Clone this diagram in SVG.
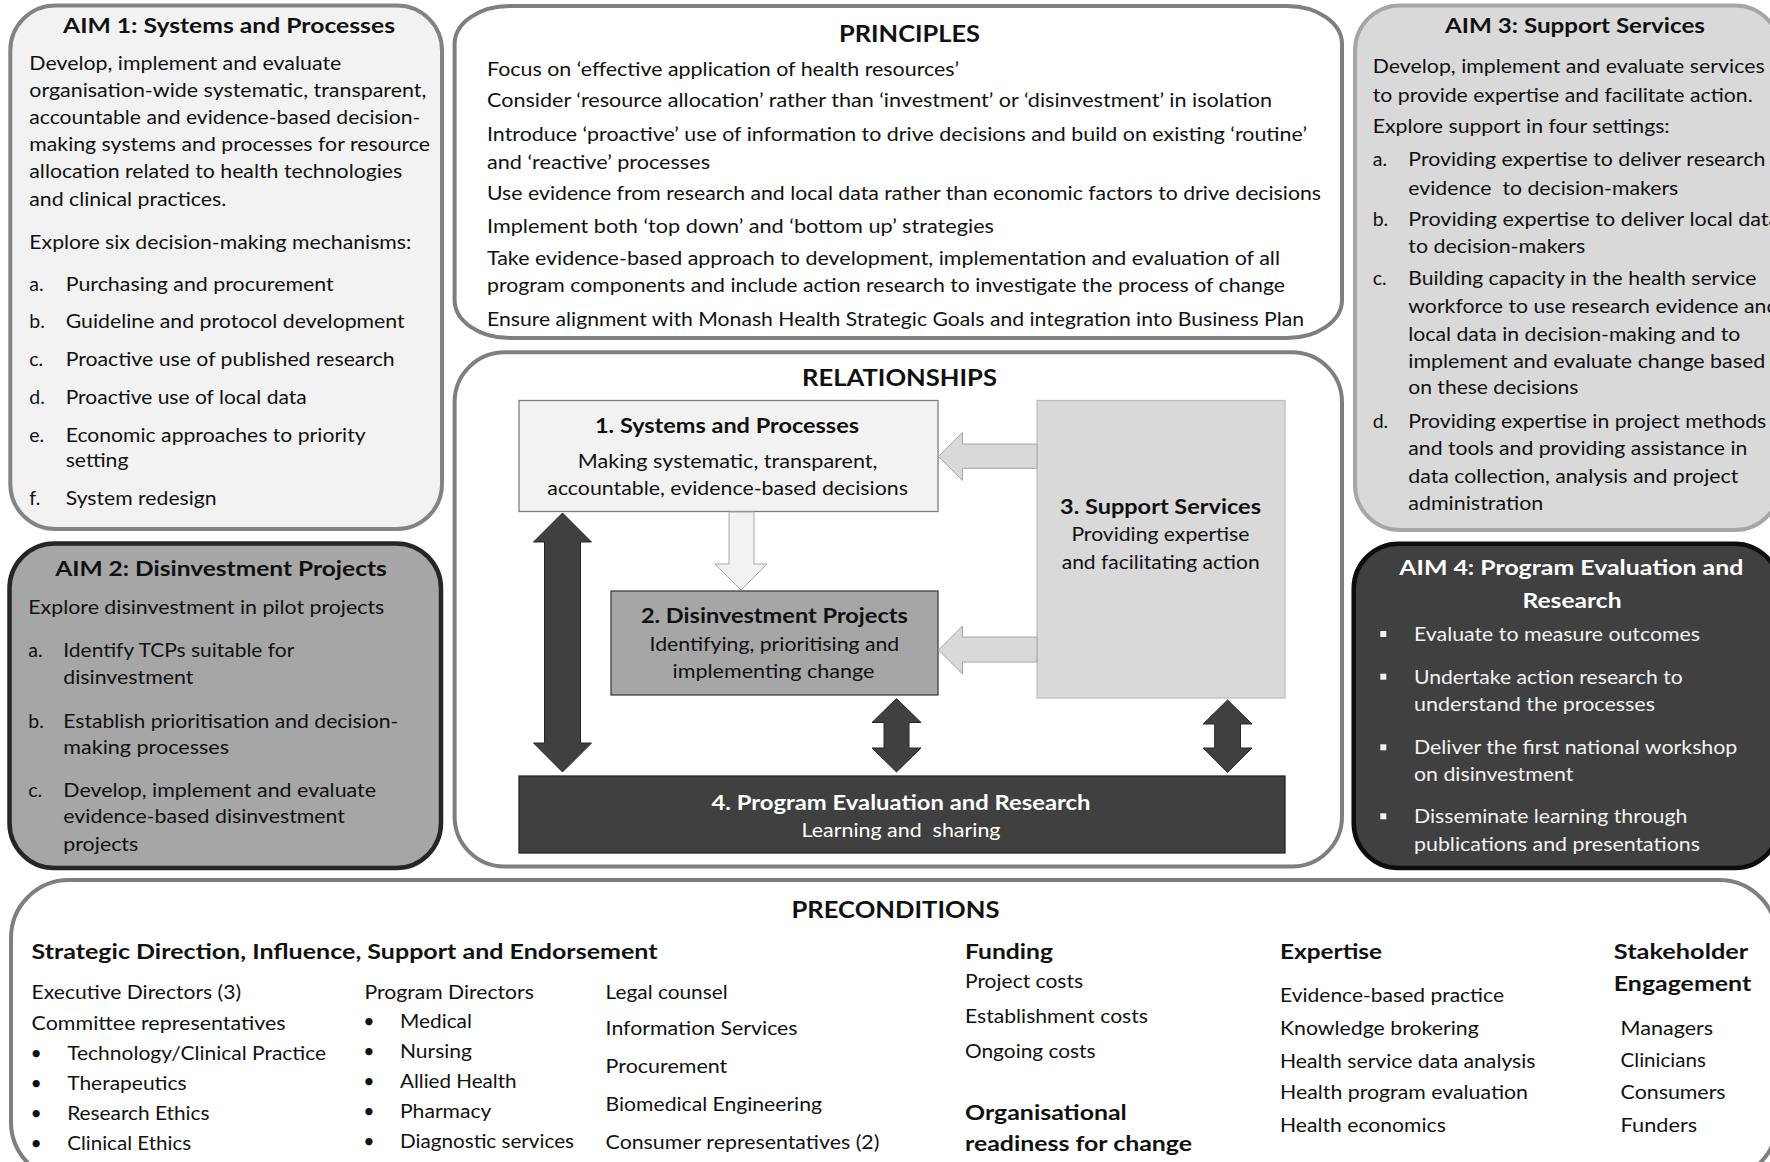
<svg xmlns="http://www.w3.org/2000/svg" width="1770" height="1162" viewBox="0 0 1770 1162">
  <style>
    text { font-family: Lato, "Open Sans", "Liberation Sans", sans-serif; }
    .b { font-size: 19.5px; fill: #111; }
    .h { font-size: 21px; font-weight: 700; fill: #111; }
    .cap { font-size: 23px; font-weight: 700; fill: #111; }
    .m { text-anchor: middle; }
    .pre { white-space: pre; }
    .lt { fill: #f2f2f2; }
    .wh { fill: #ffffff; }
    .panel { fill: #ffffff; stroke: #7f7f7f; stroke-width: 4; }
    .dbl { fill: #404040; stroke: #262626; stroke-width: 1; }
    .side { fill: #d9d9d9; stroke: #a6a6a6; stroke-width: 1; }
  </style>

  <!-- AIM 1 -->
  <g id="aim1">
    <rect x="10.3" y="5.4" width="431.7" height="523.6" rx="45" fill="#f2f2f2" stroke="#838383" stroke-width="4"/>
    <text class="h m" x="229" y="33" textLength="332" lengthAdjust="spacingAndGlyphs">AIM 1: Systems and Processes</text>
    <text class="b" x="29.3" y="69.7" textLength="312" lengthAdjust="spacingAndGlyphs">Develop, implement and evaluate</text>
    <text class="b" x="29.3" y="97.3" textLength="397" lengthAdjust="spacingAndGlyphs">organisation-wide systematic, transparent,</text>
    <text class="b" x="29.3" y="123.8" textLength="391" lengthAdjust="spacingAndGlyphs">accountable and evidence-based decision-</text>
    <text class="b" x="29.3" y="151.3" textLength="400.7" lengthAdjust="spacingAndGlyphs">making systems and processes for resource</text>
    <text class="b" x="29.3" y="178.2" textLength="373" lengthAdjust="spacingAndGlyphs">allocation related to health technologies</text>
    <text class="b" x="29.3" y="205.7" textLength="197" lengthAdjust="spacingAndGlyphs">and clinical practices.</text>
    <text class="b" x="29.3" y="248.8" textLength="382" lengthAdjust="spacingAndGlyphs">Explore six decision-making mechanisms:</text>
    <text class="b" x="29.3" y="291.1">a.</text>
    <text class="b" x="65.7" y="291.1" textLength="268" lengthAdjust="spacingAndGlyphs">Purchasing and procurement</text>
    <text class="b" x="29.3" y="328">b.</text>
    <text class="b" x="65.7" y="328" textLength="339" lengthAdjust="spacingAndGlyphs">Guideline and protocol development</text>
    <text class="b" x="29.3" y="365.9">c.</text>
    <text class="b" x="65.7" y="365.9" textLength="329" lengthAdjust="spacingAndGlyphs">Proactive use of published research</text>
    <text class="b" x="29.3" y="403.7">d.</text>
    <text class="b" x="65.7" y="403.7" textLength="241" lengthAdjust="spacingAndGlyphs">Proactive use of local data</text>
    <text class="b" x="29.3" y="441.6">e.</text>
    <text class="b" x="65.7" y="441.6" textLength="300" lengthAdjust="spacingAndGlyphs">Economic approaches to priority</text>
    <text class="b" x="65.7" y="467.4" textLength="62.7" lengthAdjust="spacingAndGlyphs">setting</text>
    <text class="b" x="29.3" y="505.3">f.</text>
    <text class="b" x="65.7" y="505.3" textLength="151" lengthAdjust="spacingAndGlyphs">System redesign</text>
  </g>

  <!-- AIM 2 -->
  <g id="aim2">
    <rect x="9.5" y="543.5" width="431.5" height="324.5" rx="45" fill="#a6a6a6" stroke="#262626" stroke-width="4.5"/>
    <text class="h m" x="221" y="575.5" textLength="331.7" lengthAdjust="spacingAndGlyphs">AIM 2: Disinvestment Projects</text>
    <text class="b" x="28.3" y="614.3" textLength="356" lengthAdjust="spacingAndGlyphs">Explore disinvestment in pilot projects</text>
    <text class="b" x="28.3" y="656.7">a.</text>
    <text class="b" x="63.3" y="656.7" textLength="231" lengthAdjust="spacingAndGlyphs">Identify TCPs suitable for</text>
    <text class="b" x="63.3" y="684.3" textLength="130" lengthAdjust="spacingAndGlyphs">disinvestment</text>
    <text class="b" x="28.3" y="727.7">b.</text>
    <text class="b" x="63.3" y="727.7" textLength="335" lengthAdjust="spacingAndGlyphs">Establish prioritisation and decision-</text>
    <text class="b" x="63.3" y="754.3" textLength="165.7" lengthAdjust="spacingAndGlyphs">making processes</text>
    <text class="b" x="28.3" y="796.7">c.</text>
    <text class="b" x="63.3" y="796.7" textLength="312.7" lengthAdjust="spacingAndGlyphs">Develop, implement and evaluate</text>
    <text class="b" x="63.3" y="823.3" textLength="281.7" lengthAdjust="spacingAndGlyphs">evidence-based disinvestment</text>
    <text class="b" x="63.3" y="851" textLength="75" lengthAdjust="spacingAndGlyphs">projects</text>
  </g>

  <!-- AIM 3 -->
  <g id="aim3">
    <rect x="1355" y="5.4" width="425" height="524.6" rx="45" fill="#d9d9d9" stroke="#a6a6a6" stroke-width="4"/>
    <text class="h m" x="1575" y="33" textLength="260" lengthAdjust="spacingAndGlyphs">AIM 3: Support Services</text>
    <text class="b" x="1372.7" y="73.1" textLength="392" lengthAdjust="spacingAndGlyphs">Develop, implement and evaluate services</text>
    <text class="b" x="1372.7" y="101.7" textLength="380" lengthAdjust="spacingAndGlyphs">to provide expertise and facilitate action.</text>
    <text class="b" x="1372.7" y="132.7" textLength="297" lengthAdjust="spacingAndGlyphs">Explore support in four settings:</text>
    <text class="b" x="1372.7" y="166.1">a.</text>
    <text class="b" x="1408.3" y="166.1" textLength="357" lengthAdjust="spacingAndGlyphs">Providing expertise to deliver research</text>
    <text class="b pre" x="1408.3" y="194.7" textLength="270" lengthAdjust="spacingAndGlyphs">evidence  to decision-makers</text>
    <text class="b" x="1372.7" y="225.7">b.</text>
    <text class="b" x="1408.3" y="225.7" textLength="371" lengthAdjust="spacingAndGlyphs">Providing expertise to deliver local data</text>
    <text class="b" x="1408.3" y="253.2" textLength="177" lengthAdjust="spacingAndGlyphs">to decision-makers</text>
    <text class="b" x="1372.7" y="284.9">c.</text>
    <text class="b" x="1408.3" y="284.9" textLength="348" lengthAdjust="spacingAndGlyphs">Building capacity in the health service</text>
    <text class="b" x="1408.3" y="312.5" textLength="370" lengthAdjust="spacingAndGlyphs">workforce to use research evidence and</text>
    <text class="b" x="1408.3" y="340.7" textLength="332" lengthAdjust="spacingAndGlyphs">local data in decision-making and to</text>
    <text class="b" x="1408.3" y="367.6" textLength="357" lengthAdjust="spacingAndGlyphs">implement and evaluate change based</text>
    <text class="b" x="1408.3" y="394.4" textLength="170" lengthAdjust="spacingAndGlyphs">on these decisions</text>
    <text class="b" x="1372.7" y="427.8">d.</text>
    <text class="b" x="1408.3" y="427.8" textLength="358" lengthAdjust="spacingAndGlyphs">Providing expertise in project methods</text>
    <text class="b" x="1408.3" y="455.4" textLength="339" lengthAdjust="spacingAndGlyphs">and tools and providing assistance in</text>
    <text class="b" x="1408.3" y="482.9" textLength="330" lengthAdjust="spacingAndGlyphs">data collection, analysis and project</text>
    <text class="b" x="1408.3" y="509.8" textLength="135" lengthAdjust="spacingAndGlyphs">administration</text>
  </g>

  <!-- AIM 4 -->
  <g id="aim4">
    <rect x="1353.7" y="543.7" width="426" height="324.3" rx="45" fill="#404040" stroke="#0d0d0d" stroke-width="4.5"/>
    <text class="h m wh" x="1571.3" y="574.5" textLength="344" lengthAdjust="spacingAndGlyphs">AIM 4: Program Evaluation and</text>
    <text class="h m wh" x="1572" y="608" textLength="99" lengthAdjust="spacingAndGlyphs">Research</text>
    <g fill="#f2f2f2">
      <rect x="1380.3" y="631" width="6" height="6"/>
      <rect x="1380.3" y="673.7" width="6" height="6"/>
      <rect x="1380.3" y="744.3" width="6" height="6"/>
      <rect x="1380.3" y="813.3" width="6" height="6"/>
    </g>
    <text class="b lt" x="1414" y="641" textLength="286" lengthAdjust="spacingAndGlyphs">Evaluate to measure outcomes</text>
    <text class="b lt" x="1414" y="683.7" textLength="268.7" lengthAdjust="spacingAndGlyphs">Undertake action research to</text>
    <text class="b lt" x="1414" y="711" textLength="241" lengthAdjust="spacingAndGlyphs">understand the processes</text>
    <text class="b lt" x="1414" y="754.3" textLength="323.3" lengthAdjust="spacingAndGlyphs">Deliver the first national workshop</text>
    <text class="b lt" x="1414" y="781" textLength="159.3" lengthAdjust="spacingAndGlyphs">on disinvestment</text>
    <text class="b lt" x="1414" y="823.3" textLength="273.3" lengthAdjust="spacingAndGlyphs">Disseminate learning through</text>
    <text class="b lt" x="1414" y="851" textLength="286" lengthAdjust="spacingAndGlyphs">publications and presentations</text>
  </g>

  <!-- PRINCIPLES -->
  <g id="principles">
    <rect class="panel" x="454.6" y="6" width="887.4" height="332" rx="55" ry="38"/>
    <text class="cap m" x="909.5" y="41.5" textLength="141" lengthAdjust="spacingAndGlyphs">PRINCIPLES</text>
    <text class="b" x="487" y="76" textLength="472" lengthAdjust="spacingAndGlyphs">Focus on ‘effective application of health resources’</text>
    <text class="b" x="487" y="107" textLength="785" lengthAdjust="spacingAndGlyphs">Consider ‘resource allocation’ rather than ‘investment’ or ‘disinvestment’ in isolation</text>
    <text class="b" x="487" y="140.5" textLength="820" lengthAdjust="spacingAndGlyphs">Introduce ‘proactive’ use of information to drive decisions and build on existing ‘routine’</text>
    <text class="b" x="487" y="168.5" textLength="223" lengthAdjust="spacingAndGlyphs">and ‘reactive’ processes</text>
    <text class="b" x="487" y="200" textLength="834" lengthAdjust="spacingAndGlyphs">Use evidence from research and local data rather than economic factors to drive decisions</text>
    <text class="b" x="487" y="233" textLength="507" lengthAdjust="spacingAndGlyphs">Implement both ‘top down’ and ‘bottom up’ strategies</text>
    <text class="b" x="487" y="265" textLength="793" lengthAdjust="spacingAndGlyphs">Take evidence-based approach to development, implementation and evaluation of all</text>
    <text class="b" x="487" y="292.3" textLength="798" lengthAdjust="spacingAndGlyphs">program components and include action research to investigate the process of change</text>
    <text class="b" x="487" y="325.5" textLength="817" lengthAdjust="spacingAndGlyphs">Ensure alignment with Monash Health Strategic Goals and integration into Business Plan</text>
  </g>

  <!-- RELATIONSHIPS panel -->
  <g id="relationships">
    <rect class="panel" x="454.6" y="352.3" width="887.4" height="514.3" rx="50"/>
    <text class="cap m" x="899.5" y="386" textLength="195" lengthAdjust="spacingAndGlyphs">RELATIONSHIPS</text>
  </g>

  <g id="rel-systems">
    <rect x="519" y="400.5" width="419" height="111" fill="#f2f2f2" stroke="#7f7f7f" stroke-width="1.3"/>
    <text class="h m" x="727" y="433" textLength="264" lengthAdjust="spacingAndGlyphs">1. Systems and Processes</text>
    <text class="b m" x="727.6" y="468.2" textLength="299.6" lengthAdjust="spacingAndGlyphs">Making systematic, transparent,</text>
    <text class="b m" x="727.6" y="494.8" textLength="360.6" lengthAdjust="spacingAndGlyphs">accountable, evidence-based decisions</text>
  </g>

  <g id="rel-disinvestment">
    <rect x="611" y="591" width="327" height="104" fill="#a6a6a6" stroke="#404040" stroke-width="1.3"/>
    <text class="h m" x="774.4" y="622.5" textLength="267" lengthAdjust="spacingAndGlyphs">2. Disinvestment Projects</text>
    <text class="b m" x="774.4" y="650.8" textLength="249.7" lengthAdjust="spacingAndGlyphs">Identifying, prioritising and</text>
    <text class="b m" x="773.5" y="678.3" textLength="202" lengthAdjust="spacingAndGlyphs">implementing change</text>
  </g>

  <g id="rel-support">
    <rect x="1037" y="400.5" width="248" height="297.5" fill="#d9d9d9" stroke="#bfbfbf" stroke-width="1.3"/>
    <text class="h m" x="1160.5" y="514" textLength="201" lengthAdjust="spacingAndGlyphs">3. Support Services</text>
    <text class="b m" x="1160.4" y="541.2" textLength="178" lengthAdjust="spacingAndGlyphs">Providing expertise</text>
    <text class="b m" x="1160.7" y="569.1" textLength="198" lengthAdjust="spacingAndGlyphs">and facilitating action</text>
  </g>

  <g id="rel-evaluation">
    <rect x="519" y="776" width="766" height="77" fill="#404040" stroke="#262626" stroke-width="1.3"/>
    <text class="h m wh" x="901" y="809.5" textLength="379" lengthAdjust="spacingAndGlyphs">4. Program Evaluation and Research</text>
    <text class="b m wh pre" x="901" y="836.7" textLength="199" lengthAdjust="spacingAndGlyphs">Learning and  sharing</text>
  </g>

  <!-- Block arrows between the relationship boxes -->
  <g id="connectors">
    <polygon points="729,512 754,512 754,564 767,564 741,590 715,564 729,564" fill="#f2f2f2" stroke="#a6a6a6" stroke-width="1"/>
    <polygon class="side" points="1037,444 962.5,444 962.5,432.5 938.5,456.5 962.5,480.5 962.5,468.3 1037,468.3"/>
    <polygon class="side" points="1037,637 962.5,637 962.5,626 938.5,650 962.5,674 962.5,662 1037,662"/>
    <polygon class="dbl" points="562.5,513 591.5,542 580.5,542 580.5,743 591.5,743 562.5,772 533.5,743 544.5,743 544.5,542 533.5,542"/>
    <polygon class="dbl" points="896.5,698.5 921,722.5 909,722.5 909,748 921,748 896.5,772 872,748 884,748 884,722.5 872,722.5"/>
    <polygon class="dbl" points="1227.6,700 1252,724 1240.5,724 1240.5,748 1252,748 1227.6,772.5 1203.2,748 1214.7,748 1214.7,724 1203.2,724"/>
  </g>

  <!-- PRECONDITIONS -->
  <g id="preconditions">
    <rect class="panel" x="11" y="880" width="1766" height="300" rx="58"/>
    <text class="cap m" x="895.5" y="917.5" textLength="208" lengthAdjust="spacingAndGlyphs">PRECONDITIONS</text>

    <text class="h" x="31.6" y="958.7" textLength="626" lengthAdjust="spacingAndGlyphs">Strategic Direction, Influence, Support and Endorsement</text>
    <text class="b" x="31.6" y="999.3" textLength="209.5" lengthAdjust="spacingAndGlyphs">Executive Directors (3)</text>
    <text class="b" x="31.6" y="1030" textLength="254" lengthAdjust="spacingAndGlyphs">Committee representatives</text>
    <text class="b m" x="36.2" y="1060.3">•</text>
    <text class="b" x="67.2" y="1060.3" textLength="259" lengthAdjust="spacingAndGlyphs">Technology/Clinical Practice</text>
    <text class="b m" x="36.2" y="1090">•</text>
    <text class="b" x="67.2" y="1090" textLength="119.4" lengthAdjust="spacingAndGlyphs">Therapeutics</text>
    <text class="b m" x="36.2" y="1120.3">•</text>
    <text class="b" x="67.2" y="1120.3" textLength="142.4" lengthAdjust="spacingAndGlyphs">Research Ethics</text>
    <text class="b m" x="36.2" y="1150">•</text>
    <text class="b" x="67.2" y="1150" textLength="124" lengthAdjust="spacingAndGlyphs">Clinical Ethics</text>

    <text class="b" x="364.5" y="999.3" textLength="169.4" lengthAdjust="spacingAndGlyphs">Program Directors</text>
    <text class="b m" x="369" y="1027.7">•</text>
    <text class="b" x="400" y="1027.7" textLength="71.9" lengthAdjust="spacingAndGlyphs">Medical</text>
    <text class="b m" x="369" y="1058.3">•</text>
    <text class="b" x="400" y="1058.3" textLength="72" lengthAdjust="spacingAndGlyphs">Nursing</text>
    <text class="b m" x="369" y="1087.7">•</text>
    <text class="b" x="400" y="1087.7" textLength="116.6" lengthAdjust="spacingAndGlyphs">Allied Health</text>
    <text class="b m" x="369" y="1117.7">•</text>
    <text class="b" x="400" y="1117.7" textLength="91.4" lengthAdjust="spacingAndGlyphs">Pharmacy</text>
    <text class="b m" x="369" y="1147.7">•</text>
    <text class="b" x="400" y="1147.7" textLength="174" lengthAdjust="spacingAndGlyphs">Diagnostic services</text>

    <text class="b" x="605.6" y="998.7" textLength="122" lengthAdjust="spacingAndGlyphs">Legal counsel</text>
    <text class="b" x="605.6" y="1035.3" textLength="192" lengthAdjust="spacingAndGlyphs">Information Services</text>
    <text class="b" x="605.6" y="1073.3" textLength="121.7" lengthAdjust="spacingAndGlyphs">Procurement</text>
    <text class="b" x="605.6" y="1111" textLength="216.4" lengthAdjust="spacingAndGlyphs">Biomedical Engineering</text>
    <text class="b" x="605.6" y="1148.7" textLength="273.8" lengthAdjust="spacingAndGlyphs">Consumer representatives (2)</text>

    <text class="h" x="965" y="958.7" textLength="88" lengthAdjust="spacingAndGlyphs">Funding</text>
    <text class="b" x="965" y="987.7" textLength="118" lengthAdjust="spacingAndGlyphs">Project costs</text>
    <text class="b" x="965" y="1022.7" textLength="183" lengthAdjust="spacingAndGlyphs">Establishment costs</text>
    <text class="b" x="965" y="1057.7" textLength="130.6" lengthAdjust="spacingAndGlyphs">Ongoing costs</text>
    <text class="h" x="965" y="1119.7" textLength="161.8" lengthAdjust="spacingAndGlyphs">Organisational</text>
    <text class="h" x="965" y="1151" textLength="227" lengthAdjust="spacingAndGlyphs">readiness for change</text>

    <text class="h" x="1280" y="958.7" textLength="102" lengthAdjust="spacingAndGlyphs">Expertise</text>
    <text class="b" x="1280" y="1002" textLength="224" lengthAdjust="spacingAndGlyphs">Evidence-based practice</text>
    <text class="b" x="1280" y="1035.3" textLength="198.8" lengthAdjust="spacingAndGlyphs">Knowledge brokering</text>
    <text class="b" x="1280" y="1067.7" textLength="255.5" lengthAdjust="spacingAndGlyphs">Health service data analysis</text>
    <text class="b" x="1280" y="1099.3" textLength="248" lengthAdjust="spacingAndGlyphs">Health program evaluation</text>
    <text class="b" x="1280" y="1132" textLength="165.8" lengthAdjust="spacingAndGlyphs">Health economics</text>

    <text class="h" x="1613.8" y="958.7" textLength="134.5" lengthAdjust="spacingAndGlyphs">Stakeholder</text>
    <text class="h" x="1613.8" y="991" textLength="137.4" lengthAdjust="spacingAndGlyphs">Engagement</text>
    <text class="b" x="1620.6" y="1035.3" textLength="92.5" lengthAdjust="spacingAndGlyphs">Managers</text>
    <text class="b" x="1620.6" y="1066.7" textLength="85.2" lengthAdjust="spacingAndGlyphs">Clinicians</text>
    <text class="b" x="1620.6" y="1099.3" textLength="105" lengthAdjust="spacingAndGlyphs">Consumers</text>
    <text class="b" x="1620.6" y="1132" textLength="76.7" lengthAdjust="spacingAndGlyphs">Funders</text>
  </g>
</svg>
